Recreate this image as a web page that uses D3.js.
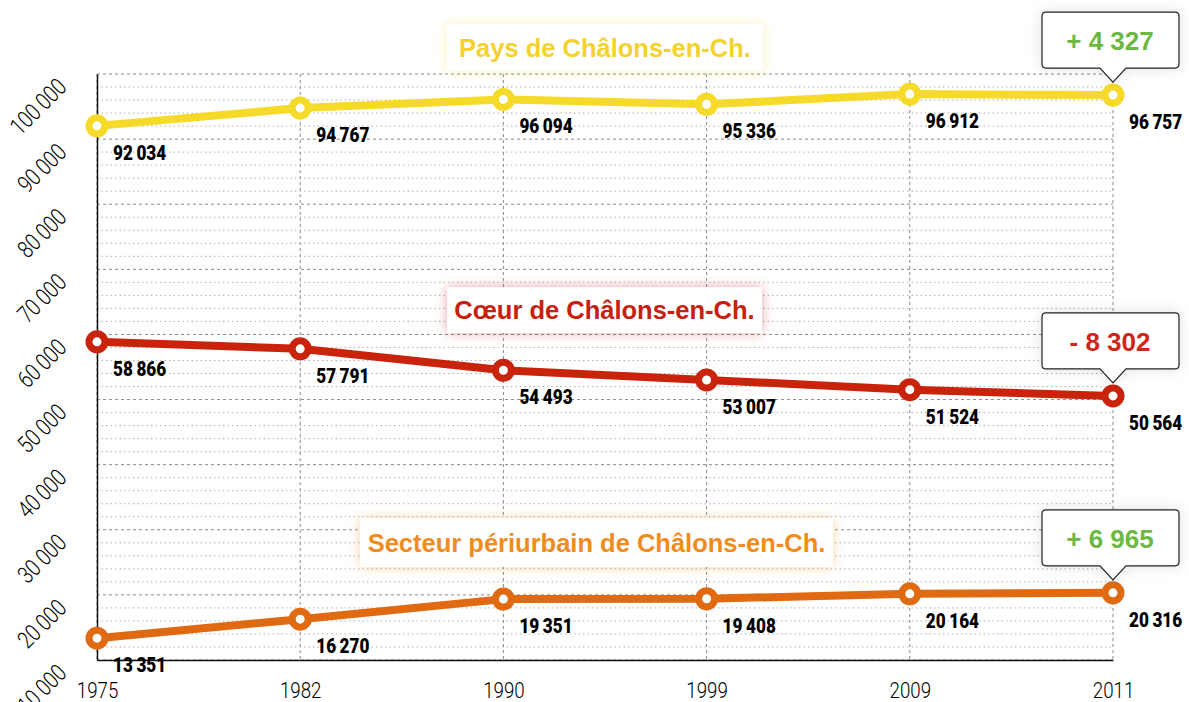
<!DOCTYPE html>
<html><head><meta charset="utf-8">
<script src="https://cdn.jsdelivr.net/npm/d3@7"></script>
<style>body{margin:0;background:#fff} svg{display:block}</style>
</head><body><svg id="chart" width="1189" height="702"></svg>
<script>
// ---------- data ----------
const years = ["1975", "1982", "1990", "1999", "2009", "2011"];
const paysValues  = [92034, 94767, 96094, 95336, 96912, 96757];
const coeurValues = [58866, 57791, 54493, 53007, 51524, 50564];
const periValues  = [13351, 16270, 19351, 19408, 20164, 20316];
const seriesNames = ["Pays de Châlons-en-Ch.", "Cœur de Châlons-en-Ch.", "Secteur périurbain de Châlons-en-Ch."];
const deltaLabels = ["+ 4 327", "- 8 302", "+ 6 965"];
const yTicks = [10000, 20000, 30000, 40000, 50000, 60000, 70000, 80000, 90000, 100000];
const yMinorStep = 2000;

// ---------- style / layout ----------
const lineColors  = ["#F6DA2A", "#C9230B", "#E06A12"];
const titleColors = ["#F4D22E", "#C8200E", "#F08C1E"];
const deltaColors = ["#6CB843", "#D0261A", "#6CB843"];
const titleBoxes = [ // layout of the series name boxes (pixels)
  {cx: 605, cy: 47.5, w: 316, h: 46},
  {cx: 604.5, cy: 310, w: 315, h: 46},
  {cx: 596.5, cy: 542.5, w: 473, h: 49}
];
const L = 97, R = 1113, T = 74, B = 660;

const svg = d3.select("#chart");
const fr = d3.formatLocale({decimal: ",", thousands: "\u2009", grouping: [3], currency: ["", " €"]});
const fmt = fr.format(",d");

const x = d3.scalePoint().domain(years).range([L, R]).padding(0);
const y = d3.scaleLinear().domain([10000, 100000]).range([B, T]);

function condense(sel, factor) {
  sel.each(function () {
    const len = this.getComputedTextLength();
    d3.select(this).attr("textLength", len * factor).attr("lengthAdjust", "spacingAndGlyphs");
  });
}

// filters
const defs = svg.append("defs");
titleColors.forEach((c, i) => {
  const f = defs.append("filter").attr("id", "glow" + i).attr("x", "-20%").attr("y", "-60%").attr("width", "140%").attr("height", "220%");
  f.append("feDropShadow").attr("dx", 0).attr("dy", 0).attr("stdDeviation", 6)
    .attr("flood-color", c).attr("flood-opacity", 0.35);
});
const fs = defs.append("filter").attr("id", "shadow").attr("x", "-30%").attr("y", "-50%").attr("width", "160%").attr("height", "200%");
fs.append("feDropShadow").attr("dx", 0).attr("dy", 0).attr("stdDeviation", 7)
  .attr("flood-color", "#000").attr("flood-opacity", 0.12);

// ---------- grid ----------
const grid = svg.append("g");
const minor = d3.range(10000, 100001, yMinorStep).filter(v => v % 10000 !== 0);
grid.selectAll("line.minor").data(minor).join("line")
  .attr("x1", L).attr("x2", R).attr("y1", d => y(d)).attr("y2", d => y(d))
  .attr("stroke", "#b0b0b0").attr("stroke-width", 1).attr("stroke-dasharray", "1.5,3");
grid.selectAll("line.major").data(yTicks).join("line")
  .attr("x1", L).attr("x2", R).attr("y1", d => y(d)).attr("y2", d => y(d))
  .attr("stroke", "#8a8a8a").attr("stroke-width", 1).attr("stroke-dasharray", "3,3");
grid.selectAll("line.v").data(years).join("line")
  .attr("x1", d => x(d)).attr("x2", d => x(d)).attr("y1", T).attr("y2", B)
  .attr("stroke", "#8a8a8a").attr("stroke-width", 1).attr("stroke-dasharray", "3,3");

// ---------- axes ----------
const yAxis = svg.append("g").attr("transform", `translate(${L},0)`)
  .call(d3.axisLeft(y).tickValues(yTicks).tickSize(0).tickFormat(fmt));
yAxis.select(".domain").attr("stroke", "#111").attr("stroke-width", 1.5);
yAxis.selectAll("text")
  .attr("x", 0).attr("dy", 0).attr("text-anchor", "end")
  .attr("transform", "translate(-29,14) rotate(-45)")
  .attr("font-family", "Roboto, 'Liberation Sans', sans-serif").attr("font-weight", 300)
  .attr("font-size", 24).attr("fill", "#000");
condense(yAxis.selectAll("text"), 0.8);

const xAxis = svg.append("g").attr("transform", `translate(0,${B})`)
  .call(d3.axisBottom(x).tickSize(0));
xAxis.select(".domain").attr("stroke", "#111").attr("stroke-width", 1.5);
xAxis.selectAll("text").attr("y", 38).attr("dy", 0)
  .attr("font-family", "Roboto, 'Liberation Sans', sans-serif").attr("font-weight", 300)
  .attr("font-size", 22).attr("fill", "#000");
condense(xAxis.selectAll("text"), 0.85);

// ---------- series name boxes ----------
seriesNames.forEach((name, i) => {
  const b = titleBoxes[i];
  const g = svg.append("g");
  g.append("rect").attr("x", b.cx - b.w / 2).attr("y", b.cy - b.h / 2)
    .attr("width", b.w).attr("height", b.h).attr("fill", "#fff").attr("filter", `url(#glow${i})`);
  g.append("text").attr("x", b.cx).attr("y", b.cy + 9).attr("text-anchor", "middle")
    .attr("font-family", "'Liberation Sans', Arial, sans-serif").attr("font-weight", "bold")
    .attr("font-size", 25.5).attr("fill", titleColors[i]).text(name);
});

// ---------- lines ----------
const allSeries = [paysValues, coeurValues, periValues];
const line = d3.line().x((d, j) => x(years[j])).y(d => y(d));
allSeries.forEach((vals, i) => {
  const g = svg.append("g");
  g.append("path").datum(vals).attr("d", line).attr("fill", "none")
    .attr("stroke", lineColors[i]).attr("stroke-width", 8).attr("stroke-linejoin", "round");
  g.selectAll("circle").data(vals).join("circle")
    .attr("cx", (d, j) => x(years[j])).attr("cy", d => y(d)).attr("r", 8)
    .attr("fill", "#fff").attr("stroke", lineColors[i]).attr("stroke-width", 7);
  const t = g.selectAll("text").data(vals).join("text")
    .attr("x", (d, j) => x(years[j]) + 16).attr("y", d => y(d) + 34)
    .attr("font-family", "Roboto, 'Liberation Sans', sans-serif").attr("font-weight", 900)
    .attr("font-size", 19.5).attr("fill", "#000").text(d => fmt(d));
  condense(t, 0.88);
});

// ---------- callouts ----------
allSeries.forEach((vals, i) => {
  const px = x(years[years.length - 1]);
  const py = y(vals[vals.length - 1]);
  const bx0 = px - 71, bx1 = px + 66, by1 = py - 27, by0 = by1 - 56, tip = py - 13, r = 4;
  const p = d3.path();
  p.moveTo(bx0 + r, by0);
  p.lineTo(bx1 - r, by0); p.quadraticCurveTo(bx1, by0, bx1, by0 + r);
  p.lineTo(bx1, by1 - r); p.quadraticCurveTo(bx1, by1, bx1 - r, by1);
  p.lineTo(px + 13, by1); p.lineTo(px, tip); p.lineTo(px - 13, by1);
  p.lineTo(bx0 + r, by1); p.quadraticCurveTo(bx0, by1, bx0, by1 - r);
  p.lineTo(bx0, by0 + r); p.quadraticCurveTo(bx0, by0, bx0 + r, by0);
  p.closePath();
  const g = svg.append("g");
  g.append("path").attr("d", p.toString()).attr("fill", "#fff").attr("stroke", "#222")
    .attr("stroke-width", 1.2).attr("filter", "url(#shadow)");
  g.append("text").attr("x", px - 3).attr("y", by0 + 38).attr("text-anchor", "middle")
    .attr("font-family", "'Liberation Sans', Arial, sans-serif").attr("font-weight", "bold")
    .attr("font-size", 26).attr("fill", deltaColors[i]).text(deltaLabels[i]);
});
</script>
</body></html>
